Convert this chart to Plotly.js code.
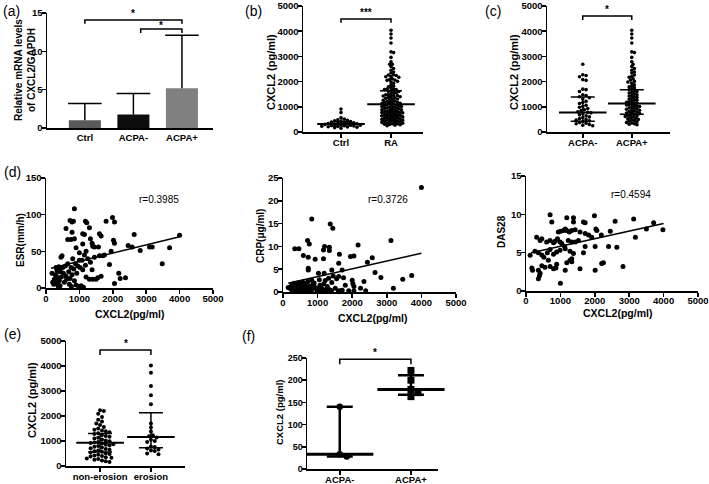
<!DOCTYPE html>
<html><head><meta charset="utf-8">
<script src="https://cdn.plot.ly/plotly-3.0.1.min.js"></script>
<style>html,body{margin:0;padding:0;background:#fff}#chart{width:709px;height:484px}</style>
</head><body><div id="chart"></div>
<script>
const W = 709, H = 484;
const FONT = 'Liberation Sans, Arial, sans-serif';

// ---------- (a) bar chart ----------
const barCats = ['Ctrl', 'ACPA-', 'ACPA+'];
const barMeans = [1.0, 1.75, 5.2];
const barSD = [2.2, 2.75, 6.9];

// ---------- (b) Ctrl vs RA ----------
const catsB = ['Ctrl', 'RA'];
const ctrlVals = [910, 770, 560, 510, 480, 460, 440, 425, 410, 395, 380, 370, 352, 340, 333, 322, 310, 301, 296, 283, 270, 262, 251, 240, 228, 221, 210, 198, 188, 172, 150];
// ---------- (c) ACPA- vs ACPA+ ----------
const catsC = ['ACPA-', 'ACPA+'];
const acpaNeg = [2690, 2270, 2240, 2190, 2080, 2050, 1700, 1680, 1610, 1480, 1450, 1400, 1360, 1310, 1220, 1170, 1130, 1060, 1010, 980, 930, 880, 850, 800, 780, 760, 720, 680, 640, 600, 570, 530, 500, 470, 440, 410, 380, 350, 330, 300, 270, 250];
const acpaPos = [4040, 3890, 3730, 3530, 3180, 3150, 2960, 2790, 2690, 2600, 2520, 2450, 2380, 2340, 2260, 2200, 2170, 2110, 2060, 2010, 1980, 1930, 1870, 1820, 1790, 1750, 1700, 1680, 1640, 1610, 1570, 1550, 1520, 1480, 1450, 1430, 1400, 1370, 1340, 1310, 1280, 1260, 1230, 1200, 1180, 1160, 1140, 1110, 1090, 1070, 1050, 1030, 1010, 990, 960, 940, 920, 900, 880, 860, 830, 810, 790, 770, 750, 730, 700, 680, 660, 640, 620, 600, 570, 550, 520, 500, 480, 450, 430, 400, 380, 360, 330, 310, 290];
const raVals = acpaNeg.concat(acpaPos);

// summary lines (median, lower, upper)
const medB = [317, 1100], loB = [235, 640], hiB = [410, 1640];
const medC = [770, 1130], loC = [430, 700], hiC = [1390, 1680];

// ---------- (d) correlations ----------
const esrX = [180,200,230,250,280,300,320,330,350,360,380,400,410,430,450,460,480,500,520,550,580,600,620,650,680,700,720,750,760,780,800,830,850,880,900,920,950,980,1000,1020,1050,1080,1100,1120,1150,1180,1200,1250,1300,1330,1380,1400,1450,1500,1550,1600,1650,1700,1750,600,720,780,820,850,780,650,750,850,1180,1220,1100,1150,1300,1330,1380,1450,1570,1650,1600,1800,1990,2050,2020,2050,1950,1900,2180,2220,2380,2050,2460,2640,2580,2820,3100,3180,3480,3700,4000,1000,1200,1100,1400,900,350,420,300,1000];
const esrY = [20,8,5,12,18,28,6,24,14,3,29,10,22,25,42,15,44,28,20,8,30,16,12,33,22,5,13,28,2,18,40,26,10,33,4,20,30,2,38,28,3,38,25,1,45,31,15,40,12,35,25,12,42,12,14,44,16,44,45,81,92,90,91,108,76,66,66,67,91,89,74,73,82,67,61,56,56,71,74,91,96,90,65,61,50,32,20,13,14,6,58,73,56,51,56,56,33,55,72,48,50,60,57,55,8,3,17,1];
const esrFitX = [150, 4000], esrFitY = [27, 70];

const crpX = [4000,830,1365,1440,710,760,3120,340,460,1200,1340,1340,1170,2170,590,730,1630,1950,2050,2580,930,1170,730,730,1025,1190,1410,1710,1610,2440,2660,2830,3460,3720,3190,150,290,390,490,540,630,750,830,880,975,1070,1120,1220,1320,1410,1510,1610,1710,1800,2000,2020,2050,2240,2340,2390,1900,930,200,250,320,350,420,450,480,520,560,600,650,680,700,720,780,800,850,900,1000,1050,1100,1150,1180,1250,1280,1350,1450,1550,1650,1750,1000,820,580,400,260,1200,1300,1400,1600,2050];
const crpY = [22.9,16.0,14.9,14.0,11.3,10.5,11.3,9.5,9.5,10.0,9.8,9.1,9.2,10.3,8.0,7.6,8.3,7.8,7.9,7.5,7.2,7.3,5.2,4.8,4.1,4.1,4.8,4.8,6.3,6.5,4.3,3.2,2.8,3.6,0.8,1.0,0.6,1.2,1.8,0.4,1.4,0.6,2.6,1.8,0.4,1.5,0.3,2.5,3.0,2.1,0.8,3.4,0.4,1.5,2.6,1.8,1.2,0.8,2.3,0.3,0.3,1.0,0.8,1.5,1.9,0.3,2.0,0.9,0.5,1.2,2.2,0.7,1.9,0.2,1.1,2.3,1.3,0.2,0.9,2.0,0.7,2.7,1.0,0.6,1.8,0.5,1.2,0.5,3.5,2.9,0.3,3.1,0.2,0.3,0.1,0.2,0.3,0.2,0.2,0.3,0.2,0.2];
const crpFitX = [150, 4000], crpFitY = [1.9, 8.5];

const dasX = [700,1380,1185,1990,2590,3130,3710,3980,3500,750,1380,1670,1720,940,1010,1090,1140,1185,1260,1330,1430,1570,2030,2060,2450,1720,1820,1910,2190,3180,310,410,460,600,700,800,845,915,990,1040,1120,1230,1330,1430,1525,1720,2010,2400,2640,120,260,360,460,520,620,700,800,890,990,1140,1280,1380,1670,1280,1330,170,190,360,360,390,410,550,700,800,870,1000,1140,1185,1570,2010,2250,2200,2820,1330,890,460,650];
const dasY = [9.96,9.57,9.57,9.8,9.1,9.4,8.9,8.0,8.1,9.0,9.0,9.0,8.9,7.7,7.8,7.9,8.1,7.9,7.7,7.9,8.0,7.7,8.1,7.9,7.8,7.5,7.3,7.0,7.3,7.0,7.0,6.6,6.8,6.4,6.6,6.3,6.5,6.8,6.4,6.2,5.8,6.6,6.4,6.4,6.6,5.8,5.8,5.8,5.7,4.65,5.2,5.0,4.7,4.4,5.0,5.4,4.8,5.1,5.3,5.5,5.2,4.9,5.0,4.0,4.2,3.0,2.7,2.7,1.6,2.0,2.3,3.1,3.2,2.9,3.0,1.0,2.7,3.7,2.9,2.7,3.7,3.6,3.2,3.8,3.5,3.3,4.0];
const dasFitX = [150, 4000], dasFitY = [5.0, 8.8];
const rTexts = ['r=0.3985', 'r=0.3726', 'r=0.4594'];

// ---------- (e) erosion ----------
const catsE = ['non-erosion', 'erosion'];
const nonErosion = [2230, 2200, 2090, 1960, 1850, 1780, 1700, 1640, 1560, 1500, 1450, 1420, 1390, 1350, 1310, 1280, 1240, 1200, 1170, 1130, 1100, 1060, 1020, 990, 960, 940, 920, 900, 870, 850, 820, 800, 770, 740, 710, 680, 650, 620, 590, 570, 540, 510, 480, 450, 420, 400, 380, 350, 330, 300, 280, 250, 220, 190, 160];
const erosion = [4020, 3730, 3200, 2830, 2470, 1700, 1540, 1380, 1230, 1190, 1140, 1050, 1000, 960, 780, 760, 700, 660, 620, 600, 500, 470];
const medE = [930, 1160], loE = [560, 730], hiE = [1300, 2130];

// ---------- (f) ----------
const catsF = ['ACPA-', 'ACPA+'];
const fNeg = [140, 33, 28];
const fPos = [222, 200, 179, 172, 163];
const medF = [33, 179], loF = [28, 167], hiF = [140, 211];

// ---------- significance brackets ----------
const brAxis = [1, 1, 2, 3, 7, 8];
const brX0 = [0, 1.15, 0, 0, 0, 0];
const brX1 = [2, 2, 1, 1, 1, 1];
const brTop = [14.1, 12.9, 4480, 4600, 4640, 247];
const brLow = [13.6, 12.4, 4340, 4440, 4440, 236];
const brStar = ['*', '*', '***', '*', '*', '*'];

// ---------- helpers ----------
const dx = (a, b) => [a / W, b / W];
const dy = (top, bottom) => [1 - bottom / H, 1 - top / H];
const P = (px, py) => ({x: px / W, y: 1 - py / H});
const B = (arr) => arr.map(s => '<b>' + s + '</b>');

function swarm(vals, center, pxY, pxX, d) {
  const order = vals.map((v, i) => i).sort((a, b) => vals[b] - vals[a]);
  const placed = [], xs = new Array(vals.length);
  order.forEach(i => {
    const y = vals[i] * pxY;
    let k = 0, off = 0;
    while (k < 400) {
      off = k === 0 ? 0 : (k % 2 ? 1 : -1) * Math.ceil(k / 2) * d * 0.5;
      if (placed.every(p => (p.x - off) ** 2 + (p.y - y) ** 2 >= d * d)) break;
      k++;
    }
    placed.push({x: off, y: y});
    xs[i] = center + off / pxX;
  });
  return xs;
}

const tickFont = {family: FONT, size: 9.5, color: '#000', weight: 700};
function axis(dom, range, anchor, extra) {
  return Object.assign({
    domain: dom, range: range, anchor: anchor, showline: true, linecolor: '#000', linewidth: 1.5,
    ticks: 'outside', ticklen: 4, tickwidth: 1.5, tickcolor: '#000', showgrid: false, zeroline: false,
    tickfont: tickFont, fixedrange: true, automargin: false, ticklabelstandoff: -3,
    tickprefix: '<b>', ticksuffix: '</b>'
  }, extra || {});
}

const traces = [];
// (a)
traces.push({type: 'bar', x: barCats.map((c, i) => i), y: barMeans, width: 0.66,
  marker: {color: ['#595959', '#0d0d0d', '#808080'], line: {width: 0}}, xaxis: 'x', yaxis: 'y', hoverinfo: 'skip'});
traces.push({type: 'scatter', mode: 'lines', xaxis: 'x', yaxis: 'y', hoverinfo: 'skip',
  x: barMeans.flatMap((m, i) => [i, i, null]), y: barMeans.flatMap((m, i) => [m, m + barSD[i], null]),
  line: {color: '#000', width: 1.5}});
traces.push({type: 'scatter', mode: 'markers', xaxis: 'x', yaxis: 'y', hoverinfo: 'skip', cliponaxis: false,
  x: barMeans.map((m, i) => i), y: barMeans.map((m, i) => m + barSD[i]),
  marker: {symbol: 'line-ew-open', size: 24, color: '#000', line: {width: 1.5, color: '#000'}}});

function dotGroup(vals, idx, ax, pxY, pxX, d, size, symbol) {
  traces.push({type: 'scatter', mode: 'markers', xaxis: 'x' + ax, yaxis: 'y' + ax, cliponaxis: false, hoverinfo: 'skip',
    x: swarm(vals, idx, pxY, pxX, d), y: vals,
    marker: {color: '#000', size: size, symbol: symbol || 'circle', line: {width: 0}}});
}
function statGroup(med, lo, hi, ax, medW, capW, th) {
  traces.push({type: 'scatter', mode: 'markers', xaxis: 'x' + ax, yaxis: 'y' + ax, cliponaxis: false, hoverinfo: 'skip',
    x: med.map((m, i) => i), y: med,
    marker: {symbol: 'line-ew-open', size: medW, color: '#000', line: {width: th + 0.5, color: '#000'}},
    error_y: {type: 'data', symmetric: false, array: hi.map((h, i) => h - med[i]), arrayminus: lo.map((l, i) => med[i] - l),
      width: capW, thickness: th, color: '#000'}});
}
// (b)
dotGroup(ctrlVals, 0, 2, 126 / 5000, 50, 3.2, 3.6);
dotGroup(raVals, 1, 2, 126 / 5000, 50, 2.6, 3.6);
statGroup(medB, loB, hiB, 2, 34, 11, 1.5);
// (c)
dotGroup(acpaNeg, 0, 3, 126 / 5000, 49, 3.3, 3.6);
dotGroup(acpaPos, 1, 3, 126 / 5000, 49, 2.6, 3.6);
statGroup(medC, loC, hiC, 3, 34, 12, 1.5);
// (d)
const dSets = [[esrX, esrY, esrFitX, esrFitY], [crpX, crpY, crpFitX, crpFitY], [dasX, dasY, dasFitX, dasFitY]];
dSets.forEach((s, k) => {
  const ax = 4 + k;
  traces.push({type: 'scatter', mode: 'markers', x: s[0], y: s[1], xaxis: 'x' + ax, yaxis: 'y' + ax, cliponaxis: false,
    hoverinfo: 'skip', marker: {color: '#000', size: 5}});
  traces.push({type: 'scatter', mode: 'lines', x: s[2], y: s[3], xaxis: 'x' + ax, yaxis: 'y' + ax,
    hoverinfo: 'skip', line: {color: '#000', width: 1.5}});
});
// (e)
dotGroup(nonErosion, 0, 7, 125 / 5000, 51, 3.8, 4);
dotGroup(erosion, 1, 7, 125 / 5000, 51, 3.8, 4);
statGroup(medE, loE, hiE, 7, 34, 12, 1.5);
// (f)
statGroup(medF, loF, hiF, 8, 48, 13, 2.5);
dotGroup(fNeg, 0, 8, 111 / 250, 71, 7, 6.5, 'circle');
dotGroup(fPos, 1, 8, 111 / 250, 71, 7, 7, 'square');

// ---------- layout ----------
const layout = {
  width: W, height: H, margin: {l: 0, r: 0, t: 0, b: 0}, showlegend: false,
  paper_bgcolor: '#fff', plot_bgcolor: 'rgba(0,0,0,0)', font: {family: FONT, color: '#000'},
  xaxis: axis(dx(47, 213), [-0.78, 2.64], 'y', {tickvals: [0, 1, 2], ticktext: B(barCats), ticks: '', ticklabelstandoff: 0}),
  yaxis: axis(dy(13, 128), [0, 15], 'x', {tickvals: [0, 5, 10, 15]}),
  xaxis2: axis(dx(303, 423), [-0.76, 1.64], 'y2', {tickvals: [0, 1], ticktext: B(catsB)}),
  yaxis2: axis(dy(6, 132), [0, 5000], 'x2', {dtick: 1000}),
  xaxis3: axis(dx(547, 670), [-0.73, 1.78], 'y3', {tickvals: [0, 1], ticktext: B(catsC)}),
  yaxis3: axis(dy(6, 132), [0, 5000], 'x3', {dtick: 1000}),
  xaxis4: axis(dx(46, 213), [0, 5000], 'y4', {dtick: 1000}),
  yaxis4: axis(dy(178, 288), [0, 150], 'x4', {dtick: 50}),
  xaxis5: axis(dx(283, 456), [0, 5000], 'y5', {dtick: 1000}),
  yaxis5: axis(dy(178, 292), [0, 25], 'x5', {dtick: 5}),
  xaxis6: axis(dx(526, 698), [0, 5000], 'y6', {dtick: 1000, ticklabelstandoff: -4}),
  yaxis6: axis(dy(176, 291), [0, 15], 'x6', {dtick: 5}),
  xaxis7: axis(dx(66, 185), [-0.67, 1.67], 'y7', {tickvals: [0, 1], ticktext: B(catsE)}),
  yaxis7: axis(dy(341, 466), [0, 5000], 'x7', {dtick: 1000}),
  xaxis8: axis(dx(307, 438), [-0.46, 1.38], 'y8', {tickvals: [0, 1], ticktext: B(catsF)}),
  yaxis8: axis(dy(358, 469), [0, 250], 'x8', {dtick: 50, tickfont: {family: FONT, size: 9, color: '#000', weight: 700}}),
  shapes: [], annotations: []
};

const brStarShift = [-1, -4, -1, -1, -1, -1];
brAxis.forEach((a, i) => {
  const xr = a === 1 ? 'x' : 'x' + a, yr = a === 1 ? 'y' : 'y' + a;
  layout.shapes.push({type: 'path', xref: xr, yref: yr, layer: 'above',
    path: `M${brX0[i]},${brLow[i]} L${brX0[i]},${brTop[i]} L${brX1[i]},${brTop[i]} L${brX1[i]},${brLow[i]}`,
    line: {color: '#000', width: 1.5}});
  layout.annotations.push({xref: xr, yref: yr, x: (brX0[i] + brX1[i]) / 2, y: brTop[i], text: '<b>' + brStar[i] + '</b>',
    showarrow: false, xanchor: 'center', yanchor: 'bottom', yshift: brStarShift[i],
    font: {family: FONT, size: 10, color: '#000', weight: 700}});
});

function note(text, px, py, size, opts) {
  const p = P(px, py);
  layout.annotations.push(Object.assign({xref: 'paper', yref: 'paper', x: p.x, y: p.y, text: text, showarrow: false,
    xanchor: 'center', yanchor: 'middle', font: {family: FONT, size: size, color: '#000'}}, opts || {}));
}
const bold = (s) => ({font: {family: FONT, size: s, color: '#000', weight: 700}});
// panel letters
note('(a)', 11, 11, 14); note('(b)', 253, 11, 14); note('(c)', 493, 11, 14);
note('(d)', 12, 172, 14); note('(e)', 12, 334, 14); note('(f)', 248, 336, 14);
// y titles
note('Relative mRNA levels<br>of CXCL2/GAPDH', 25, 70, 10, Object.assign({textangle: -90}, bold(10)));
note('CXCL2 (pg/ml)', 271, 72, 11, Object.assign({textangle: -90}, bold(11)));
note('CXCL2 (pg/ml)', 514, 72, 11, Object.assign({textangle: -90}, bold(11)));
note('ESR(mm/h)', 20, 240, 10, Object.assign({textangle: -90}, bold(10)));
note('CRP(μg/ml)', 261, 236, 10, Object.assign({textangle: -90}, bold(10)));
note('DAS28', 502, 232, 10, Object.assign({textangle: -90}, bold(10)));
note('CXCL2 (pg/ml)', 32, 400, 11, Object.assign({textangle: -90}, bold(11)));
note('CXCL2 (pg/ml)', 279, 413, 9.5, Object.assign({textangle: -90}, bold(9.5)));
// x titles (d)
note('CXCL2(pg/ml)', 129, 314, 10.5, bold(10.5));
note('CXCL2(pg/ml)', 373, 318, 10.5, bold(10.5));
note('CXCL2(pg/ml)', 617, 313, 10.5, bold(10.5));
// r values
note(rTexts[0], 159, 199, 10); note(rTexts[1], 388, 199, 10); note(rTexts[2], 631, 194, 10);

Plotly.newPlot('chart', traces, layout, {staticPlot: true, displayModeBar: false});
</script></body></html>
